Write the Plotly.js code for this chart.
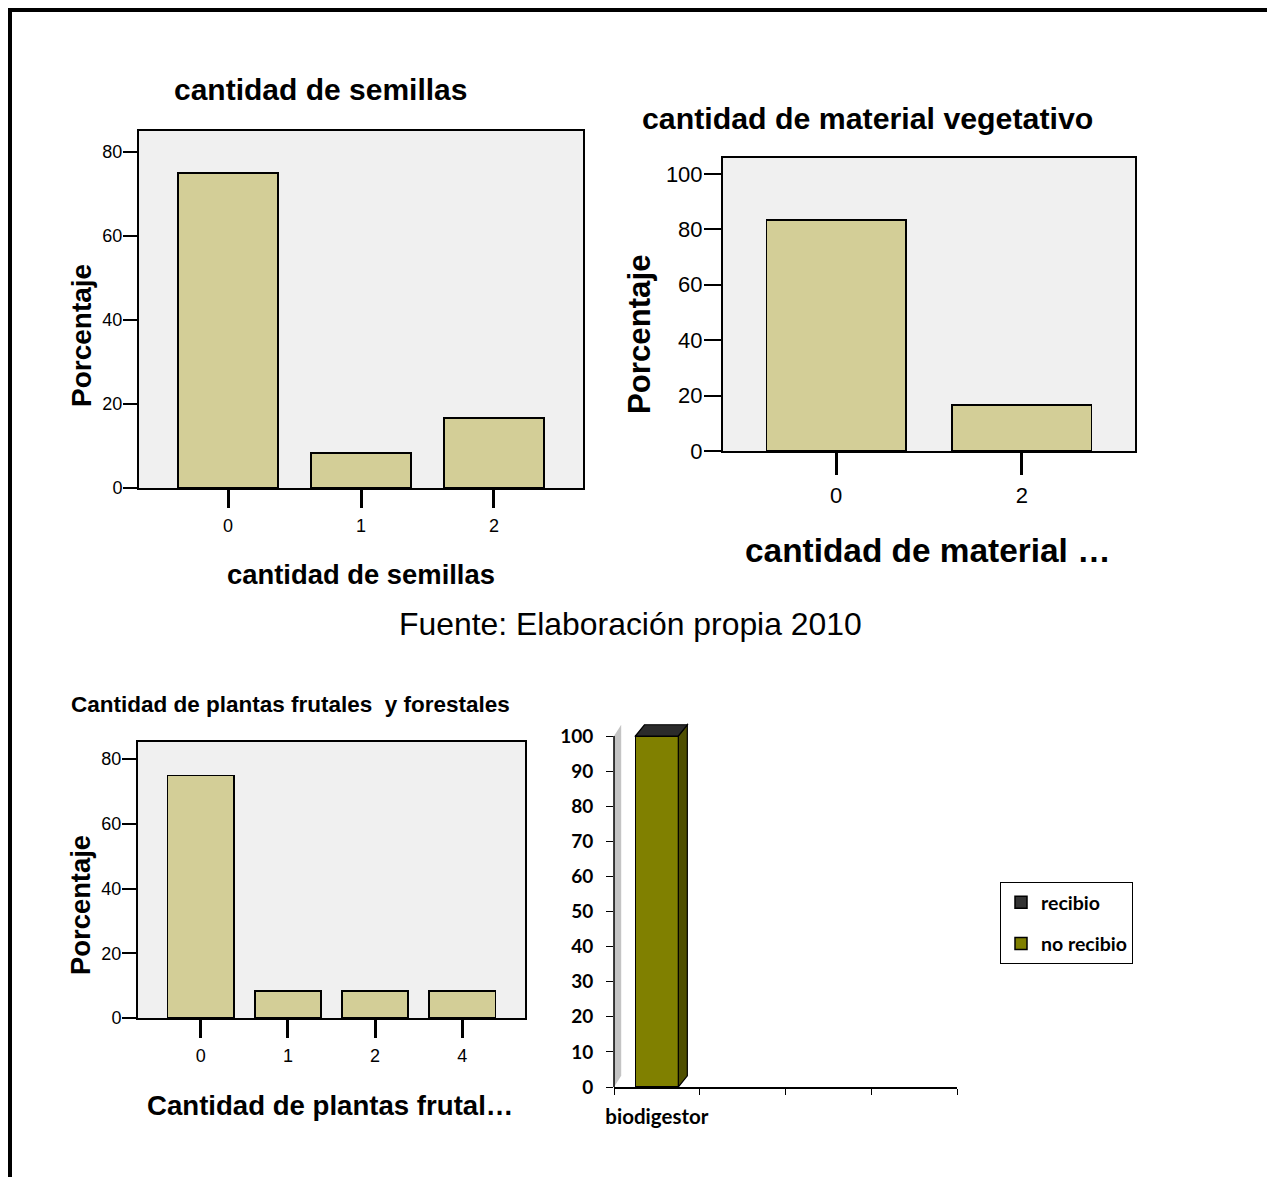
<!DOCTYPE html>
<html><head><meta charset="utf-8">
<script src="https://cdn.plot.ly/plotly-3.0.1.min.js"></script>
<style>html,body{margin:0;padding:0;background:#fff}#chart{width:1267px;height:1177px}</style>
</head><body><div id="chart"></div>
<script>
// ---- data ----
const semillasCats = ["0", "1", "2"];
const semillasPct = [75, 8.33, 16.67];
const vegetativoCats = ["0", "2"];
const vegetativoPct = [83.33, 16.67];
const frutalesCats = ["0", "1", "2", "4"];
const frutalesPct = [75, 8.33, 8.33, 8.33];
const biodigestorCats = ["biodigestor"];
const biodigestorSlots = ["biodigestor", " ", "  ", "   "];
const recibioPct = [0];
const noRecibioPct = [100];

// ---- styles ----
const W = 1267, H = 1177;
const ARIAL = "Arial, 'Liberation Sans', sans-serif";
const CAL = "Lato, 'Noto Sans', sans-serif";
const TAN = "#d3ce97";
const px = v => v / W;
const py = v => 1 - v / H;

function spssBar(cats, vals, xa, ya, width) {
  return {type: "bar", x: cats, y: vals, xaxis: xa, yaxis: ya, width: width,
    marker: {color: TAN, line: {color: "#000", width: 1.6}}, showlegend: false, hoverinfo: "x+y"};
}
const traces = [
  spssBar(semillasCats, semillasPct, "x", "y", 0.75),
  spssBar(vegetativoCats, vegetativoPct, "x2", "y2", 0.75),
  spssBar(frutalesCats, frutalesPct, "x3", "y3", 0.76),
  {type: "bar", name: "no recibio", x: biodigestorCats, y: noRecibioPct, xaxis: "x4", yaxis: "y4", width: 0.5,
    legendgroup: "b", legendrank: 2, marker: {color: "#808000", line: {color: "#000", width: 1.5}}},
  {type: "bar", name: "recibio", x: biodigestorCats, y: recibioPct, xaxis: "x4", yaxis: "y4", width: 0.5,
    legendgroup: "a", legendrank: 1, marker: {color: "#333333", line: {color: "#000", width: 1.5}}}
];

function catAxis(dom, anchor, range, ticklen, fs) {
  return {domain: dom, anchor: anchor, type: "category", range: range, showline: true, mirror: true,
    linecolor: "#000", linewidth: 2, ticks: "outside", ticklen: ticklen, tickwidth: 3, tickcolor: "#000",
    tickfont: {family: ARIAL, size: fs, color: "#000"}, ticklabelstandoff: 2, tickangle: 0,
    showgrid: false, zeroline: false, fixedrange: true};
}
function valAxis(dom, anchor, range, ticklen, fs) {
  return {domain: dom, anchor: anchor, range: range, dtick: 20, tick0: 0, showline: true, mirror: true,
    linecolor: "#000", linewidth: 2, ticks: "outside", ticklen: ticklen, tickwidth: 2, tickcolor: "#000",
    tickfont: {family: ARIAL, size: fs, color: "#000"}, ticklabelstandoff: -3,
    showgrid: false, zeroline: false, fixedrange: true};
}

// 3D depth for the Excel-style column (in axis units)
const DX = 0.105, DY = 3.2;
const top4 = noRecibioPct[0] + recibioPct[0];
const half = 0.25;

function ann(text, x, y, size, bold, angle) {
  return {text: bold ? "<b>" + text + "</b>" : text, x: px(x), y: py(y), xref: "paper", yref: "paper",
    showarrow: false, xanchor: "center", yanchor: "middle", textangle: angle || 0,
    font: {family: ARIAL, size: size, color: "#000"}};
}

const layout = {
  width: W, height: H, margin: {l: 0, r: 0, t: 0, b: 0},
  paper_bgcolor: "#fff", plot_bgcolor: "#fff",
  barmode: "stack", bargap: 0.25,
  xaxis: catAxis([px(139), px(583)], "y", [-0.67, 2.67], 18, 18),
  yaxis: valAxis([py(488), py(131)], "x", [0, 85], 14, 18),
  xaxis2: catAxis([px(723), px(1135)], "y2", [-0.61, 1.61], 22, 22),
  yaxis2: valAxis([py(451), py(158)], "x2", [0, 105.7], 17, 22),
  xaxis3: catAxis([px(138), px(525)], "y3", [-0.72, 3.72], 18, 18),
  yaxis3: valAxis([py(1018), py(742)], "x3", [0, 85.3], 14, 18),
  xaxis4: {domain: [px(614), px(957)], anchor: "y4", type: "category", categoryorder: "array",
    categoryarray: biodigestorSlots, range: [-0.5, 3.5], tickson: "boundaries", tickangle: 0,
    showline: true, linecolor: "#000", linewidth: 2, ticks: "outside", ticklen: 6, tickwidth: 1, tickcolor: "#000",
    tickfont: {family: CAL, size: 20.5, color: "#000", weight: "bold"}, ticklabelstandoff: 10,
    showgrid: false, zeroline: false, fixedrange: true},
  yaxis4: {domain: [py(1087), py(1087 - 104 * 3.51)], anchor: "x4", range: [0, 104], dtick: 10, tick0: 0,
    showline: false, ticks: "outside", ticklen: 7, tickwidth: 1, tickcolor: "#000",
    tickfont: {family: CAL, size: 19, color: "#000", weight: "bold"}, ticklabelstandoff: 9,
    showgrid: false, zeroline: false, fixedrange: true},
  showlegend: true,
  legend: {x: px(1000), y: py(882), xanchor: "left", yanchor: "top", bgcolor: "#fff",
    bordercolor: "#000", borderwidth: 1, traceorder: "grouped", tracegroupgap: 13,
    itemwidth: 30, font: {family: CAL, size: 19.5, color: "#000", weight: "bold"}},
  shapes: [
    // SPSS grey plot backgrounds
    {type: "rect", xref: "x domain", yref: "y domain", x0: 0, x1: 1, y0: 0, y1: 1, fillcolor: "#f0f0f0", line: {width: 0}, layer: "below"},
    {type: "rect", xref: "x2 domain", yref: "y2 domain", x0: 0, x1: 1, y0: 0, y1: 1, fillcolor: "#f0f0f0", line: {width: 0}, layer: "below"},
    {type: "rect", xref: "x3 domain", yref: "y3 domain", x0: 0, x1: 1, y0: 0, y1: 1, fillcolor: "#f0f0f0", line: {width: 0}, layer: "below"},
    // 3D wall on the left of chart 4
    {type: "path", xref: "x4", yref: "y4", layer: "below",
      path: `M-0.5,0 L${-0.5 + DX * 0.8},${DY} L${-0.5 + DX * 0.8},${100 + DY} L-0.5,100 Z`,
      fillcolor: "#c4c4c4", line: {width: 0}},
    // side face of column
    {type: "path", xref: "x4", yref: "y4", layer: "above",
      path: `M${half},0 L${half + DX},${DY} L${half + DX},${top4 + DY} L${half},${top4} Z`,
      fillcolor: "#4f4f00", line: {color: "#000", width: 1.2}},
    // top face of column
    {type: "path", xref: "x4", yref: "y4", layer: "above",
      path: `M${-half},${top4} L${-half + DX},${top4 + DY} L${half + DX},${top4 + DY} L${half},${top4} Z`,
      fillcolor: "#2b2b2b", line: {color: "#000", width: 1.2}},
    // y axis line chart 4
    {type: "line", xref: "x4 domain", yref: "y4", x0: 0, x1: 0, y0: 0, y1: 100, line: {color: "#000", width: 1.5}},
    // page frame
    {type: "line", xref: "paper", yref: "paper", x0: px(8), x1: 1, y0: py(10), y1: py(10), line: {color: "#000", width: 4}},
    {type: "line", xref: "paper", yref: "paper", x0: px(10), x1: px(10), y0: py(8), y1: 0, line: {color: "#000", width: 4}}
  ],
  annotations: [
    ann("cantidad de semillas", 320, 90, 30, true),
    ann("cantidad de semillas", 361, 574, 27.4, true),
    ann("Porcentaje", 82, 335, 28, true, -90),
    ann("cantidad de material vegetativo", 867, 118, 30.3, true),
    ann("cantidad de material …", 928, 550, 33.4, true),
    ann("Porcentaje", 640, 335, 31.2, true, -90),
    ann("Fuente: Elaboración propia 2010", 630, 624, 31.9, false),
    ann("Cantidad de plantas frutales&nbsp; y forestales", 290, 704, 22.5, true),
    ann("Cantidad de plantas frutal…", 330, 1105, 27.6, true),
    ann("Porcentaje", 80, 905, 27.4, true, -90)
  ]
};

Plotly.newPlot("chart", traces, layout, {displayModeBar: false, responsive: false, staticPlot: true});
</script>
</body></html>
